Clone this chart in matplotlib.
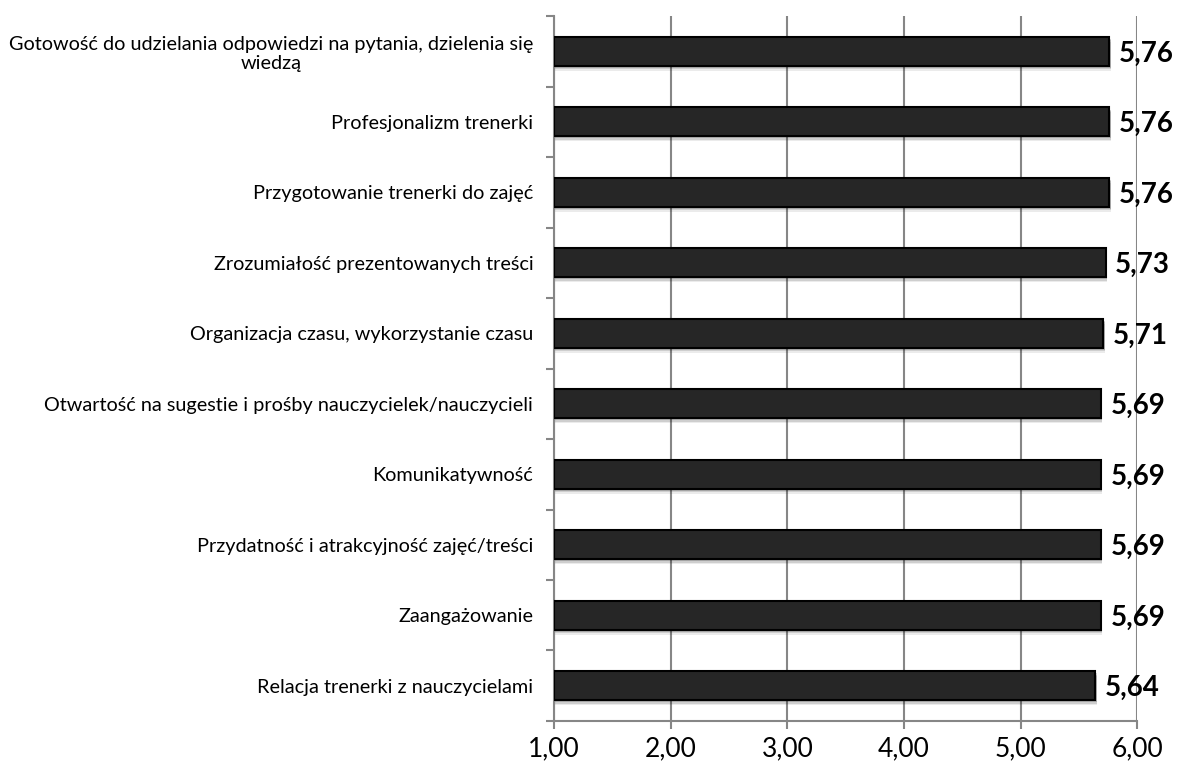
import matplotlib
matplotlib.use("Agg")
import matplotlib.pyplot as plt
from matplotlib.ticker import FixedLocator

plt.rcParams['font.family'] = ['Lato', 'DejaVu Sans']

categories = [
    "Gotowość do udzielania odpowiedzi na pytania, dzielenia się\nwiedzą",
    "Profesjonalizm trenerki",
    "Przygotowanie trenerki do zajęć",
    "Zrozumiałość prezentowanych treści",
    "Organizacja czasu, wykorzystanie czasu",
    "Otwartość na sugestie i prośby nauczycielek/nauczycieli",
    "Komunikatywność",
    "Przydatność i atrakcyjność zajęć/treści",
    "Zaangażowanie",
    "Relacja trenerki z nauczycielami",
]
values = [5.76, 5.76, 5.76, 5.73, 5.71, 5.69, 5.69, 5.69, 5.69, 5.64]
x_ticks = [1, 2, 3, 4, 5, 6]
x_tick_labels = ["1,00", "2,00", "3,00", "4,00", "5,00", "6,00"]

fig = plt.figure(figsize=(11.79, 7.67), dpi=100)
ax = fig.add_axes([0.470, 0.060, 0.4945, 0.919])

n = len(categories)
ypos = list(range(n))
base = x_ticks[0]
bar_h = 0.41
grid_col = "#868686"

# soft drop shadow under each bar
for k, a in [(0.07, 0.08), (0.05, 0.12), (0.03, 0.16)]:
    ax.barh([y + k for y in ypos], [v - base + 0.012 for v in values], left=base,
            height=bar_h, color="black", alpha=a, linewidth=0, zorder=2)

ax.barh(ypos, [v - base for v in values], left=base, height=bar_h,
        color="#262626", edgecolor="black", linewidth=1.5, zorder=3)

for y, v in zip(ypos, values):
    ax.text(v + 0.08, y + 0.03, f"{v:.2f}".replace(".", ","), va="center", ha="left",
            fontsize=20, fontweight="bold", color="black", zorder=4)

ax.set_xlim(1, 6)
ax.set_ylim(n - 0.5, -0.5)
ax.set_xticks(x_ticks)
ax.set_xticklabels(x_tick_labels, fontsize=19)
ax.set_yticks(ypos)
ax.set_yticklabels(categories, fontsize=14.3)
for lbl in ax.get_yticklabels():
    lbl.set_multialignment("center")
    lbl.set_linespacing(1.15)
ax.yaxis.set_minor_locator(FixedLocator([y - 0.5 for y in range(n + 1)]))
ax.tick_params(axis="y", which="major", length=0, pad=15)
ax.tick_params(axis="y", which="minor", length=6, width=1.5, color=grid_col)
ax.tick_params(axis="x", which="major", length=6, width=1.5, color=grid_col, pad=5)

ax.grid(axis="x", color=grid_col, linewidth=1.5, zorder=1)
ax.set_axisbelow(True)
for s in ["top", "right"]:
    ax.spines[s].set_visible(False)
for s in ["left", "bottom"]:
    ax.spines[s].set_color(grid_col)
    ax.spines[s].set_linewidth(1.5)

fig.savefig("out.png", dpi=100, facecolor="white")
